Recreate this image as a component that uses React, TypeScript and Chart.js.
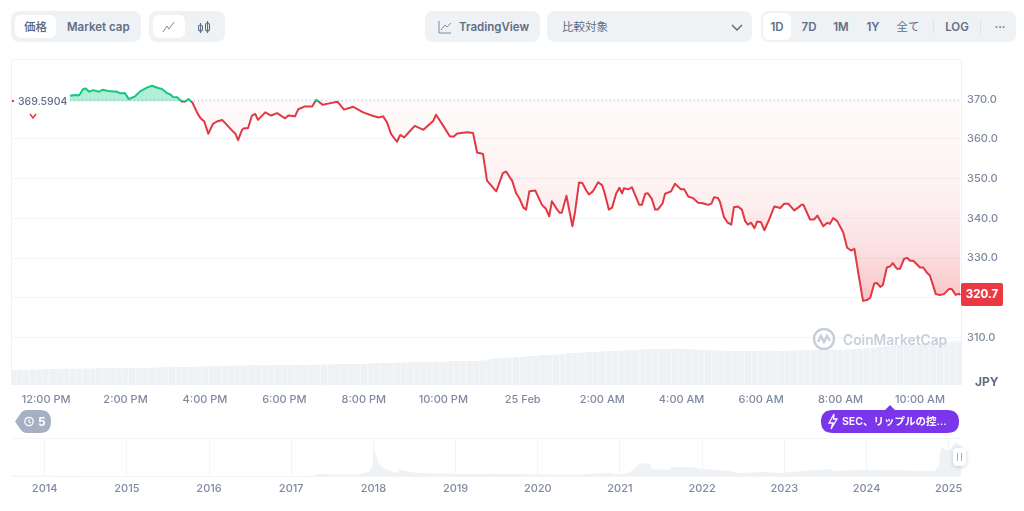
import React, { useEffect, useRef } from "react";
import { Chart, registerables } from "chart.js";

Chart.register(...registerables);

const FONT = "Inter, 'Noto Sans CJK JP', sans-serif";
const GREY = "#7f8aa0";
const BASE_PRICE = 369.5904;
const LAST_PRICE = "320.7";

const xMin = -53;
const xMax = 1382;
const tickMinutes = [0, 120, 240, 360, 480, 600, 720, 840, 960, 1080, 1200, 1320];
const tickLabels = ["12:00 PM", "2:00 PM", "4:00 PM", "6:00 PM", "8:00 PM", "10:00 PM", "25 Feb", "2:00 AM", "4:00 AM", "6:00 AM", "8:00 AM", "10:00 AM"];
const priceTicks = [310, 320, 330, 340, 350, 360, 370];

const lineMinutes = [
  36, 44, 50, 56, 60, 65, 71, 80, 85, 94, 107, 112, 119, 125, 134, 142, 153, 160, 168, 175, 183, 187, 192, 198, 205, 210, 215, 221, 228, 233, 239, 245, 252, 258, 266, 281, 286, 290, 296, 299, 305, 311, 316, 320,
  331, 340, 349, 361, 366, 376, 381, 391, 402, 408, 418, 426, 440, 450, 464, 479, 492, 502, 509, 515, 521, 530, 535, 541, 548, 557, 570, 585, 589, 600, 610, 616, 621, 636, 645, 651, 660, 666,
  680, 690, 695, 701, 704, 710, 715, 721, 725, 730, 739, 749, 755, 760, 764, 772, 776, 779, 786, 795, 799, 805, 810, 816, 820, 826, 834, 840, 844, 850, 855, 861, 866, 870, 873, 879, 885, 896, 900, 905, 909, 915, 920, 924, 931, 935, 944, 950, 959, 964, 970, 977, 985, 992, 1000, 1005, 1009, 1015,
  1018, 1024, 1029, 1035, 1039, 1045, 1051, 1056, 1060, 1065, 1070, 1074, 1080, 1085, 1092, 1100, 1109, 1115, 1121, 1130, 1136, 1141, 1144, 1154, 1160, 1165, 1174, 1180, 1184, 1189, 1195, 1204, 1210, 1216, 1221, 1227, 1234, 1240, 1245, 1251, 1255, 1260, 1264, 1270, 1275, 1279, 1285, 1290, 1296, 1301, 1305, 1310, 1320, 1325, 1331, 1335, 1344, 1350, 1356, 1364, 1368, 1374, 1379, 1381,
];
const linePrices = [
  370.9, 371.1, 371.0, 372.6, 372.7, 371.9, 372.3, 371.9, 372.4, 372.1, 371.9, 371.5, 371.6, 370.05, 370.7, 372.0, 373.0, 373.4, 372.9, 372.6, 371.5, 371.3, 370.6, 370.5, 369.45, 369.45, 370.05, 369.2, 366.7, 365.3, 364.4, 361.3, 363.8, 364.4, 364.8, 362.1, 361.3, 359.7, 362.3, 362.7, 362.7, 365.9, 366.3, 364.8,
  366.7, 365.9, 366.5, 365.2, 365.9, 365.7, 367.5, 368.2, 368.2, 369.9, 368.6, 368.9, 369.4, 367.4, 368.1, 366.7, 365.9, 365.4, 365.7, 364.2, 361.3, 359.3, 361.0, 360.4, 361.7, 363.3, 362.3, 364.6, 366.1, 363.3, 360.6, 360.6, 361.4, 361.7, 361.5, 356.6, 356.2, 349.5,
  346.8, 351.4, 351.8, 350.2, 349.5, 346.3, 345.0, 342.7, 342.2, 346.8, 347.0, 343.4, 342.4, 340.5, 344.3, 342.2, 341.4, 341.4, 345.7, 338.0, 341.6, 349.0, 348.9, 347.0, 346.0, 346.8, 349.1, 348.3, 346.2, 342.2, 342.7, 346.2, 347.7, 346.3, 347.6, 347.3, 347.8, 343.4, 343.4, 346.2, 346.3, 344.9, 342.2, 342.2, 343.7, 346.2, 346.8, 348.7, 347.3, 347.3, 345.5, 345.1, 343.9, 343.8, 343.4, 343.7, 345.3, 345.1,
  344.1, 340.3, 339.0, 338.4, 342.8, 343.0, 342.2, 339.3, 338.4, 338.9, 337.5, 339.2, 339.0, 337.0, 339.6, 343.0, 342.6, 343.7, 343.7, 342.0, 342.7, 343.4, 343.4, 339.7, 339.7, 340.7, 338.0, 338.9, 338.6, 340.1, 339.3, 336.5, 332.6, 331.9, 332.3, 326.1, 319.2, 319.4, 320.0, 323.6, 323.7, 322.7, 323.2, 327.6, 327.9, 328.7, 327.3, 327.3, 329.8, 330.0, 329.3, 329.3, 327.6, 327.6, 326.2, 325.6, 320.9, 320.7, 320.9, 322.2, 322.2, 320.7, 321.0, 320.7,
];

const volumeStartMinute = -50;
const volumeStepMinutes = 10;
const volumes = [
  15, 15, 15, 15.5, 15.5, 16, 16, 16, 16.5, 16, 16.5, 16.5,
  16.5, 17, 17, 17, 16.5, 17, 17, 17, 17, 17.5, 17.5, 18,
  18, 18, 18, 18, 18.5, 18.5, 19, 19, 19, 19.5, 19.5, 19.5,
  20, 20, 19.5, 20, 20, 20, 20, 20, 20, 20, 20.5, 20.5,
  20.5, 21, 21, 21, 21, 21, 21.5, 22, 22, 22, 22.5, 22.5,
  23, 23, 23, 23, 23.5, 23, 24, 24, 24, 24, 24, 24.5,
  26, 27, 27, 27.5, 28, 28, 29, 29, 30, 30, 30.5, 31,
  32, 32, 32.5, 33, 33, 33.5, 34, 34, 34.5, 35, 35, 35.5,
  36, 36, 36, 36, 36.5, 36, 36, 35.5, 35, 35, 34.5, 34.5,
  34, 34, 34, 34, 34, 34, 34.5, 34, 34, 34, 34.5, 34.5,
  35, 35, 35, 35, 35.5, 35, 35.5, 36, 36, 37, 37.5, 38,
  39, 39.5, 40, 40, 40.5, 41, 41.5, 42, 42.5, 43, 43.5, 44,
];

const navYears = [2013.59, 2014, 2015, 2016, 2017, 2017.25, 2017.35, 2017.5, 2017.8, 2017.94, 2017.98, 2018.01, 2018.05, 2018.08, 2018.12, 2018.27, 2018.33, 2018.53, 2019, 2019.5, 2020, 2020.5, 2020.85, 2020.95, 2021.05, 2021.12, 2021.24, 2021.29, 2021.37, 2021.39, 2021.6, 2021.63, 2021.87, 2022, 2022.33, 2022.45, 2022.76, 2022.94, 2023.54, 2023.62, 2023.91, 2024.15, 2024.83, 2024.88, 2024.9, 2024.93, 2024.98, 2025.02, 2025.08, 2025.13, 2025.15];
const navPrices = [3, 3, 1, 1, 1, 5, 30, 22, 22, 60, 135, 390, 240, 165, 120, 45, 90, 45, 30, 35, 22, 20, 45, 25, 30, 60, 180, 195, 180, 105, 90, 135, 135, 105, 75, 45, 60, 45, 105, 75, 90, 90, 75, 165, 390, 430, 370, 400, 510, 465, 465];
const navTicks = [2014, 2015, 2016, 2017, 2018, 2019, 2020, 2021, 2022, 2023, 2024, 2025];

const pill: React.CSSProperties = { position: "absolute", background: "#eff2f5", borderRadius: 8, top: 11, height: 31 };
const white: React.CSSProperties = { position: "absolute", background: "#fff", borderRadius: 6, top: 15, height: 23 };

function Label(p: { x: number; y?: number; w?: number; c?: string; s?: number; b?: number; children: React.ReactNode; center?: boolean }) {
  const w = p.w ?? 60;
  return (
    <div style={{ position: "absolute", left: p.center ? p.x - w / 2 : p.x, top: (p.y ?? 27) - 9, width: w, height: 18, lineHeight: "18px", fontSize: p.s ?? 11.5, fontWeight: p.b ?? 600, color: p.c ?? "#616e85", textAlign: p.center ? "center" : "left", whiteSpace: "nowrap", fontFamily: FONT }}>
      {p.children}
    </div>
  );
}

export default function App() {
  const mainRef = useRef<HTMLCanvasElement>(null);
  const navRef = useRef<HTMLCanvasElement>(null);

  useEffect(() => {
    const lineData = lineMinutes.map((x, i) => ({ x, y: linePrices[i] }));
    const volData = volumes.map((y, i) => ({ x: volumeStartMinute + i * volumeStepMinutes, y }));
    const main = new Chart(mainRef.current!, {
      type: "line",
      data: {
        datasets: [
          { type: "line", data: lineData, yAxisID: "y", borderWidth: 2, pointRadius: 0, tension: 0, borderColor: "#ea3943", order: 1, borderJoinStyle: "round" } as any,
          { type: "line", data: [{ x: 36, y: BASE_PRICE }, { x: xMax, y: BASE_PRICE }], yAxisID: "y", borderWidth: 1, borderDash: [1, 3], borderColor: "#a6b0c3", pointRadius: 0, order: 2 } as any,
          { type: "bar", data: volData, yAxisID: "v", backgroundColor: "#eff2f5", categoryPercentage: 1, barPercentage: 0.96, order: 3 } as any,
        ],
      },
      options: {
        animation: false,
        responsive: false,
        maintainAspectRatio: false,
        layout: { padding: { left: 11, top: 9, right: 0, bottom: 0 } },
        plugins: { legend: { display: false }, tooltip: { enabled: false } },
        scales: {
          x: {
            type: "linear",
            offset: false,
            min: xMin,
            max: xMax,
            afterBuildTicks: (a: any) => { a.ticks = [xMin, ...tickMinutes, xMax].map((value) => ({ value })); },
            afterFit: (a: any) => { a.height = 35; },
            border: { display: false },
            grid: { offset: false, drawTicks: false, color: (c: any) => (c.tick && (c.tick.value === xMin || c.tick.value === xMax) ? "#eff2f5" : "rgba(0,0,0,0)") },
            ticks: {
              autoSkip: false, maxRotation: 0, padding: 8, color: GREY,
              font: { family: FONT, size: 11, weight: 500 },
              callback: (v: any) => { const i = tickMinutes.indexOf(v); return i < 0 ? "" : tickLabels[i]; },
            },
          },
          y: {
            position: "right",
            min: 298,
            max: 380,
            afterBuildTicks: (a: any) => { a.ticks = [...priceTicks, 380].map((value) => ({ value })); },
            afterFit: (a: any) => { a.width = 63; },
            border: { display: false },
            grid: { drawTicks: false, color: "#f3f4f6" },
            ticks: {
              padding: 6, color: GREY,
              font: { family: FONT, size: 11, weight: 500 },
              callback: (v: any) => (v === 380 ? "" : Number(v).toFixed(1)),
            },
          },
          v: { display: false, min: 0, max: 326 },
        },
      } as any,
    });

    const sc = main.scales.y;
    const ctx = main.ctx;
    const area = main.chartArea;
    const basePx = sc.getPixelForValue(BASE_PRICE);
    const stop = (basePx - area.top) / (area.bottom - area.top);
    const stroke = ctx.createLinearGradient(0, area.top, 0, area.bottom);
    stroke.addColorStop(0, "#16c784");
    stroke.addColorStop(stop, "#16c784");
    stroke.addColorStop(stop, "#e23843");
    stroke.addColorStop(1, "#e23843");
    const lowPx = sc.getPixelForValue(Math.min(...linePrices));
    const below = ctx.createLinearGradient(0, basePx, 0, lowPx);
    below.addColorStop(0, "rgba(234,57,67,0.02)");
    below.addColorStop(0.5, "rgba(234,57,67,0.08)");
    below.addColorStop(0.75, "rgba(234,57,67,0.16)");
    below.addColorStop(1, "rgba(234,57,67,0.3)");
    const ds = main.data.datasets[0] as any;
    ds.borderColor = stroke;
    ds.fill = { target: { value: BASE_PRICE }, above: "rgba(22,199,132,0.33)", below };
    main.update("none");

    const nav = new Chart(navRef.current!, {
      type: "line",
      data: {
        datasets: [{
          data: navYears.map((x, i) => ({ x, y: navPrices[i] })),
          borderWidth: 0, pointRadius: 0, tension: 0, fill: "origin", backgroundColor: "#eff2f5",
        }],
      },
      options: {
        animation: false,
        responsive: false,
        maintainAspectRatio: false,
        layout: { padding: { left: 11, top: 8, right: 63, bottom: 0 } },
        plugins: { legend: { display: false }, tooltip: { enabled: false } },
        scales: {
          x: {
            type: "linear",
            min: 2013.59,
            max: 2025.15,
            afterBuildTicks: (a: any) => { a.ticks = navTicks.map((value) => ({ value })); },
            afterFit: (a: any) => { a.height = 35; },
            border: { display: false },
            grid: { drawTicks: false, color: "#f3f4f6" },
            ticks: {
              autoSkip: false, maxRotation: 0, padding: 6, color: GREY,
              font: { family: FONT, size: 11, weight: 500 },
              callback: (v: any) => String(v),
            },
          },
          y: {
            min: 0,
            max: 570,
            afterBuildTicks: (a: any) => { a.ticks = [0, 570].map((value) => ({ value })); },
            afterFit: (a: any) => { a.width = 0; },
            border: { display: false },
            grid: { drawTicks: false, color: "#f3f4f6" },
            ticks: { display: false },
          },
        },
      } as any,
    });

    return () => { main.destroy(); nav.destroy(); };
  }, []);

  return (
    <div style={{ position: "absolute", left: 0, top: 0, width: 1024, height: 511, background: "#fff", overflow: "hidden", fontFamily: FONT }}>
      {/* toolbar */}
      <div style={{ ...pill, left: 11, width: 130 }} />
      <div style={{ ...white, left: 15, width: 41 }} />
      <Label x={35.5} w={40} center b={500} c="#58667e">価格</Label>
      <Label x={67} w={70}>Market cap</Label>

      <div style={{ ...pill, left: 149, width: 76 }} />
      <div style={{ ...white, left: 153, width: 32 }} />
      <svg style={{ position: "absolute", left: 162, top: 21 }} width="14" height="12" fill="none" stroke="#7f8aa0" strokeWidth="1"><path d="M1 11 L5 5 L7 8 L12 1" /></svg>
      <svg style={{ position: "absolute", left: 197, top: 20 }} width="14" height="14" fill="none" stroke="#616e85" strokeWidth="1.1"><rect x="1.5" y="5" width="4" height="6" rx="2" /><rect x="8.5" y="3" width="4" height="8" rx="2" /><path d="M3.5 3V13M10.5 1V13" /></svg>

      <div style={{ ...pill, left: 425, width: 115 }} />
      <svg style={{ position: "absolute", left: 438, top: 20 }} width="14" height="14" fill="none" stroke="#7f8aa0" strokeWidth="1"><path d="M1 1V13H13M3 10L7 5L9 7L13 3" /></svg>
      <Label x={459} w={75}>TradingView</Label>

      <div style={{ ...pill, left: 547, width: 205 }} />
      <Label x={562} w={60} b={400} c="#616e85">比較対象</Label>
      <svg style={{ position: "absolute", left: 731, top: 24 }} width="12" height="8" fill="none" stroke="#58667e" strokeWidth="1.4"><path d="M1 1L6 6L11 1" /></svg>

      <div style={{ ...pill, left: 761, width: 255 }} />
      <div style={{ ...white, left: 763, top: 13, width: 28, height: 27 }} />
      <Label x={777} w={28} center>1D</Label>
      <Label x={809} w={28} center>7D</Label>
      <Label x={841} w={28} center>1M</Label>
      <Label x={873} w={28} center>1Y</Label>
      <Label x={908} w={28} center b={400}>全て</Label>
      <div style={{ position: "absolute", left: 933, top: 19, width: 1, height: 15, background: "#dfe3ea" }} />
      <Label x={957} w={32} center>LOG</Label>
      <div style={{ position: "absolute", left: 980, top: 19, width: 1, height: 15, background: "#dfe3ea" }} />
      <Label x={1000} w={24} center>···</Label>

      {/* charts */}
      <canvas ref={mainRef} width={1024} height={373} style={{ position: "absolute", left: 0, top: 47, width: 1024, height: 373 }} />
      <canvas ref={navRef} width={1024} height={81} style={{ position: "absolute", left: 0, top: 430, width: 1024, height: 81 }} />

      {/* start-price label */}
      <div style={{ position: "absolute", left: 12, top: 100, width: 2, height: 2, background: "#ea3943" }} />
      <Label x={18} y={102} w={52} s={10.5} c="#616e85" b={500}>{BASE_PRICE}</Label>
      <svg style={{ position: "absolute", left: 29, top: 113 }} width="8" height="7" fill="none" stroke="#ea3943" strokeWidth="1.6"><path d="M1 1L4 5L7 1" /></svg>

      {/* last price badge */}
      <div style={{ position: "absolute", left: 961, top: 283, width: 42, height: 23, background: "#ea3943", borderRadius: 2, color: "#fff", fontSize: 11.5, fontWeight: 700, lineHeight: "23px", textAlign: "center" }}>{LAST_PRICE}</div>
      <Label x={975} y={382} w={24} s={12} c="#616e85" b={700}>JPY</Label>

      {/* watermark */}
      <svg style={{ position: "absolute", left: 812, top: 327 }} width="24" height="24" fill="none" stroke="#c8cfdb" strokeWidth="2.4"><circle cx="12" cy="12" r="10" /><path d="M6 15L9 9L12 15L15 9L18 14" /></svg>
      <Label x={843} y={340} w={110} s={13.8} c="#c8cfdb" b={600}>CoinMarketCap</Label>

      {/* markers */}
      <svg style={{ position: "absolute", left: 14, top: 410 }} width="38" height="23"><path d="M1 11.5L7 3Q9 0 13 0H26Q37 0 37 11.5Q37 23 26 23H13Q9 23 7 20Z" fill="#a6b0c3" /><circle cx="15" cy="11.5" r="4.2" fill="none" stroke="#fff" strokeWidth="1.3" /><path d="M15 9V12L17 13" fill="none" stroke="#fff" strokeWidth="1.1" /></svg>
      <Label x={38} y={422} w={10} s={12} c="#fff" b={700}>5</Label>
      <svg style={{ position: "absolute", left: 821, top: 405 }} width="138" height="28"><path d="M69 0L74 5H126Q138 5 138 16.5Q138 28 126 28H12Q0 28 0 16.5Q0 5 12 5H64Z" fill="#7b35ea" /><path d="M13 9L8 18H12L10 24L16 14H12.5Z" fill="none" stroke="#fff" strokeWidth="1.3" /></svg>
      <Label x={842} y={422} w={112} s={10.5} c="#fff" b={600}>SEC、リップルの控…</Label>

      {/* navigator handle */}
      <div style={{ position: "absolute", left: 953, top: 448, width: 13, height: 18, background: "#fff", borderRadius: 4, boxShadow: "0 1px 4px rgba(88,102,126,0.3)" }} />
      <div style={{ position: "absolute", left: 957, top: 453, width: 1, height: 8, background: "#a6b0c3" }} />
      <div style={{ position: "absolute", left: 961, top: 453, width: 1, height: 8, background: "#a6b0c3" }} />
    </div>
  );
}
